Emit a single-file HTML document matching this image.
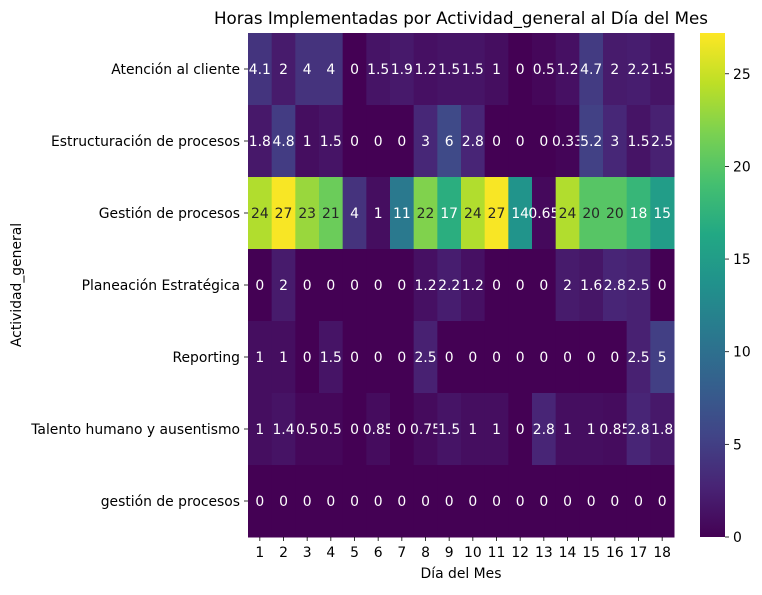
<!DOCTYPE html>
<html><head><meta charset="utf-8"><style>
body{margin:0;background:#fff;}
svg text{font-family:"DejaVu Sans","Liberation Sans",sans-serif;}
</style></head><body>
<svg id="chart" width="762" height="590" xmlns="http://www.w3.org/2000/svg">
<text x="461" y="24" text-anchor="middle" font-size="16.7" fill="#000">Horas Implementadas por Actividad_general al Día del Mes</text>
<text x="461" y="578" text-anchor="middle" font-size="13.9" fill="#000">Día del Mes</text>
<text transform="translate(21,285) rotate(-90)" text-anchor="middle" font-size="13.9" fill="#000">Actividad_general</text>
<g id="cells"></g><g id="xt"></g><g id="yt"></g><g id="cb"></g>
</svg>
<script>
const categories=["Atención al cliente","Estructuración de procesos","Gestión de procesos","Planeación Estratégica","Reporting","Talento humano y ausentismo","gestión de procesos"];
const days=["1","2","3","4","5","6","7","8","9","10","11","12","13","14","15","16","17","18"];
const rowAtencion=[4.1,2,4,4,0,1.5,1.9,1.2,1.5,1.5,1,0,0.5,1.2,4.7,2,2.2,1.5];
const rowEstructuracion=[1.8,4.8,1,1.5,0,0,0,3,6,2.8,0,0,0,0.33,5.2,3,1.5,2.5];
const rowGestion=[24,27,23,21,4,1,11,22,17,24,27,14,0.65,24,20,20,18,15];
const rowPlaneacion=[0,2,0,0,0,0,0,1.2,2.2,1.2,0,0,0,2,1.6,2.8,2.5,0];
const rowReporting=[1,1,0,1.5,0,0,0,2.5,0,0,0,0,0,0,0,0,2.5,5];
const rowTalento=[1,1.4,0.5,0.5,0,0.85,0,0.75,1.5,1,1,0,2.8,1,1,0.85,2.8,1.8];
const rowGestionLower=[0,0,0,0,0,0,0,0,0,0,0,0,0,0,0,0,0,0];
const colorTicks=[0,5,10,15,20,25];
const vmax=27.2;
const rows=[rowAtencion,rowEstructuracion,rowGestion,rowPlaneacion,rowReporting,rowTalento,rowGestionLower];
const X0=248,X1=674,Y0=33,Y1=537;
const cw=(X1-X0)/days.length, rh=(Y1-Y0)/categories.length;
const xs=i=>X0+i*cw, ys=j=>Y0+j*rh;
const stops=["#440154","#482475","#414487","#355f8d","#2a788e","#21918c","#22a884","#44bf70","#7ad151","#bddf26","#fde725"].map(h=>[1,3,5].map(k=>parseInt(h.substr(k,2),16)));
function cmap(v){let t=Math.max(0,Math.min(1,v/vmax))*10;let i=Math.min(9,Math.floor(t)),f=t-i;return stops[i].map((c,k)=>Math.round(c+(stops[i+1][k]-c)*f));}
function lum(c){const l=c.map(x=>{x/=255;return x<=0.03928?x/12.92:Math.pow((x+0.055)/1.055,2.4)});return 0.2126*l[0]+0.7152*l[1]+0.0722*l[2];}
const NS="http://www.w3.org/2000/svg";
function mk(t,a,p){const e=document.createElementNS(NS,t);for(const k in a)e.setAttribute(k,a[k]);p.appendChild(e);return e;}
const gc=document.getElementById('cells');
rows.forEach((r,j)=>r.forEach((v,i)=>{const c=cmap(v);
 const rc=mk('rect',{x:xs(i),y:ys(j),width:cw+0.5,height:rh+0.5,fill:`rgb(${c})`},gc);
 
 
 const tx=mk('text',{x:xs(i)+cw/2,y:ys(j)+rh/2+5,'text-anchor':'middle','font-size':'13.9',fill:lum(c)>0.408?'#262626':'#fff'},gc);
 tx.textContent=String(v);
 
 
}));
const gx=document.getElementById('xt');
days.forEach((d,i)=>{const x=xs(i)+cw/2;
 mk('line',{x1:x,x2:x,y1:Y1,y2:Y1+4,stroke:'#000','stroke-width':0.8},gx);
 const t=mk('text',{x:x,y:Y1+20,'text-anchor':'middle','font-size':'13.9'},gx);t.textContent=d;
 
 });
const gy=document.getElementById('yt');
categories.forEach((c,j)=>{const y=ys(j)+rh/2;
 mk('line',{x1:X0-4,x2:X0,y1:y,y2:y,stroke:'#000','stroke-width':0.8},gy);
 const t=mk('text',{x:X0-8,y:y+5,'text-anchor':'end','font-size':'13.9'},gy);t.textContent=c;
 
 });
const gb=document.getElementById('cb');
const CBX=700,CBW=25,CBH=Y1-Y0;
const defs=mk('defs',{},gb);const lg=mk('linearGradient',{id:'vg',x1:0,y1:1,x2:0,y2:0},defs);
stops.forEach((s,k)=>mk('stop',{offset:k/10,'stop-color':`rgb(${s})`},lg));
const bar=mk('rect',{x:CBX,y:Y0,width:CBW,height:CBH,fill:'url(#vg)'},gb);


colorTicks.forEach(v=>{const y=Y1-v/vmax*CBH;
 mk('line',{x1:CBX+CBW,x2:CBX+CBW+4,y1:y,y2:y,stroke:'#000','stroke-width':0.8},gb);
 const t=mk('text',{x:CBX+CBW+8,y:y+5,'font-size':'13.9'},gb);t.textContent=v;
 
 });
</script>
</body></html>
